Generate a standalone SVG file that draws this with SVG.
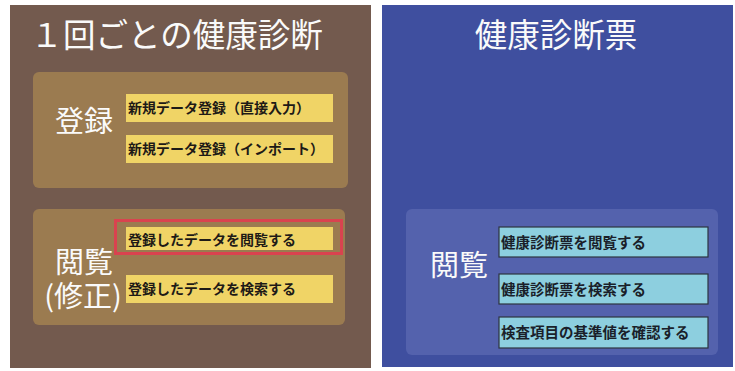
<svg xmlns="http://www.w3.org/2000/svg" width="735" height="371" viewBox="0 0 735 371">
<style>
text{font-family:"Noto Sans CJK JP","Noto Sans",sans-serif}
.title{fill:#fafafa;font-size:32.5px}
.big{fill:#fafafa;font-size:29px}
.item{fill:#1e1a16;font-size:14px;font-weight:bold}
.itemb{fill:#1a1f2a;font-size:14.5px;font-weight:bold}
.ybox{fill:#f0d466}
.cbox{fill:#8dcfdf;stroke:#2d3440;stroke-width:1.2}
</style>
<rect width="735" height="371" fill="#ffffff"/>
<g id="panel-left">
<rect x="10" y="5" width="361" height="363" fill="#735a4e"/>
<text class="title" x="30.5" y="46.5">１回ごとの健康診断</text>
</g>
<g id="panel-right">
<rect x="382" y="5" width="351" height="362" fill="#3f4f9f"/>
<text class="title" x="556" y="46.5" text-anchor="middle" font-size="32">健康診断票</text>
</g>
<g id="group-register">
<rect x="33" y="72" width="315" height="116" rx="6" fill="#9b7b50"/>
<text class="big" x="84" y="132" text-anchor="middle">登録</text>
</g>
<g id="node-register-direct">
<rect class="ybox" x="126" y="94" width="207" height="28"/>
<text class="item" x="128" y="113">新規データ登録（直接入力）</text>
</g>
<g id="node-register-import">
<rect class="ybox" x="126" y="135" width="207" height="28"/>
<text class="item" x="128" y="154">新規データ登録（インポート）</text>
</g>
<g id="group-view-edit">
<rect x="33" y="209" width="312" height="116" rx="6" fill="#9b7b50"/>
<text class="big" x="84" y="273" text-anchor="middle" font-size="27">閲覧</text>
<text class="big" x="83" y="306.5" text-anchor="middle" font-size="27">(修正)</text>
</g>
<g id="node-view-data">
<rect class="ybox" x="126" y="227" width="207" height="23"/>
<text class="item" x="128" y="244.5">登録したデータを閲覧する</text>
<rect x="115.5" y="220.5" width="226" height="33" fill="none" stroke="#d9434f" stroke-width="3"/>
</g>
<g id="node-search-data">
<rect class="ybox" x="126" y="275" width="207" height="28"/>
<text class="item" x="128" y="294">登録したデータを検索する</text>
</g>
<g id="group-view-right">
<rect x="406" y="209" width="312" height="146" rx="6" fill="#5462ad"/>
<text class="big" x="459" y="276" text-anchor="middle">閲覧</text>
</g>
<g id="node-view-sheet">
<rect class="cbox" x="499" y="227" width="209" height="30"/>
<text class="itemb" x="501" y="247.5">健康診断票を閲覧する</text>
</g>
<g id="node-search-sheet">
<rect class="cbox" x="499" y="274" width="209" height="30"/>
<text class="itemb" x="501" y="294.5">健康診断票を検索する</text>
</g>
<g id="node-check-reference">
<rect class="cbox" x="499" y="317" width="209" height="31"/>
<text class="itemb" x="501" y="338">検査項目の基準値を確認する</text>
</g>
<g id="connectors"></g>
</svg>
